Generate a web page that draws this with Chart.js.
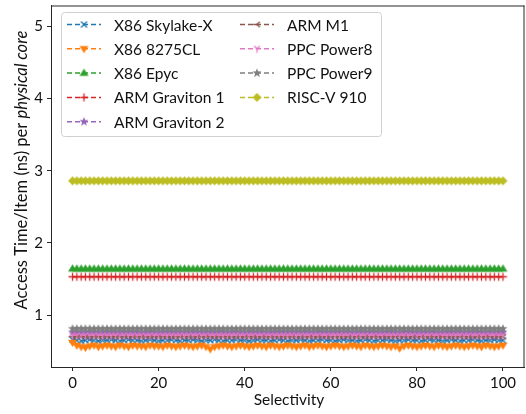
<!DOCTYPE html>
<html>
<head>
<meta charset="utf-8">
<script src="https://cdn.jsdelivr.net/npm/chart.js@4.4.0/dist/chart.umd.min.js"></script>
<style>
html,body{margin:0;padding:0;background:#fff;overflow:hidden;width:526px;height:414px;}
canvas{display:block;}
</style>
</head>
<body>
<canvas id="c" width="530" height="414"></canvas>
<script>
const selectivity = [0,1,2,3,4,5,6,7,8,9,10,11,12,13,14,15,16,17,18,19,20,21,22,23,24,25,26,27,28,29,30,31,32,33,34,35,36,37,38,39,40,41,42,43,44,45,46,47,48,49,50,51,52,53,54,55,56,57,58,59,60,61,62,63,64,65,66,67,68,69,70,71,72,73,74,75,76,77,78,79,80,81,82,83,84,85,86,87,88,89,90,91,92,93,94,95,96,97,98,99,100];

const seriesNames = ["X86 Skylake-X","X86 8275CL","X86 Epyc","ARM Graviton 1","ARM Graviton 2","ARM M1","PPC Power8","PPC Power9","RISC-V 910"];

const skylakeX = [0.66,0.65,0.64,0.65,0.66,0.65,0.64,0.65,0.65,0.66,
0.65,0.64,0.65,0.66,0.65,0.65,0.64,0.65,0.66,0.65,
0.64,0.65,0.65,0.66,0.65,0.64,0.65,0.65,0.66,0.65,
0.64,0.65,0.65,0.66,0.65,0.64,0.65,0.65,0.66,0.65,
0.65,0.64,0.65,0.66,0.65,0.65,0.64,0.65,0.66,0.65,
0.64,0.65,0.65,0.66,0.65,0.64,0.65,0.65,0.66,0.65,
0.65,0.64,0.65,0.66,0.65,0.65,0.64,0.65,0.66,0.65,
0.64,0.65,0.65,0.66,0.65,0.64,0.65,0.65,0.66,0.65,
0.65,0.64,0.65,0.66,0.65,0.65,0.64,0.65,0.66,0.65,
0.64,0.65,0.65,0.66,0.65,0.64,0.65,0.65,0.66,0.65,
0.65];
const x86_8275CL = [0.62,0.58,0.56,0.55,0.57,0.58,0.56,0.57,0.58,0.57,
0.56,0.58,0.57,0.56,0.58,0.57,0.57,0.56,0.58,0.57,
0.57,0.56,0.58,0.57,0.56,0.57,0.58,0.57,0.56,0.57,
0.58,0.56,0.53,0.56,0.57,0.58,0.57,0.56,0.57,0.58,
0.57,0.56,0.57,0.58,0.57,0.56,0.58,0.57,0.56,0.57,
0.58,0.57,0.56,0.57,0.58,0.56,0.57,0.58,0.57,0.56,
0.57,0.58,0.57,0.56,0.57,0.58,0.57,0.56,0.58,0.57,
0.56,0.57,0.58,0.57,0.56,0.57,0.54,0.57,0.58,0.57,
0.56,0.57,0.58,0.57,0.56,0.58,0.57,0.56,0.57,0.58,
0.57,0.56,0.57,0.58,0.57,0.56,0.58,0.57,0.56,0.57,
0.58];
const x86Epyc = [1.64,1.64,1.64,1.64,1.64,1.64,1.64,1.64,1.64,1.64,
1.64,1.64,1.64,1.64,1.64,1.64,1.64,1.64,1.64,1.64,
1.64,1.64,1.64,1.64,1.64,1.64,1.64,1.64,1.64,1.64,
1.64,1.64,1.64,1.64,1.64,1.64,1.64,1.64,1.64,1.64,
1.64,1.64,1.64,1.64,1.64,1.64,1.64,1.64,1.64,1.64,
1.64,1.64,1.64,1.64,1.64,1.64,1.64,1.64,1.64,1.64,
1.64,1.64,1.64,1.64,1.64,1.64,1.64,1.64,1.64,1.64,
1.64,1.64,1.64,1.64,1.64,1.64,1.64,1.64,1.64,1.64,
1.64,1.64,1.64,1.64,1.64,1.64,1.64,1.64,1.64,1.64,
1.64,1.64,1.64,1.64,1.64,1.64,1.64,1.64,1.64,1.64,
1.64];
const armGraviton1 = [1.53,1.53,1.53,1.53,1.53,1.53,1.53,1.53,1.53,1.53,
1.53,1.53,1.53,1.53,1.53,1.53,1.53,1.53,1.53,1.53,
1.53,1.53,1.53,1.53,1.53,1.53,1.53,1.53,1.53,1.53,
1.53,1.53,1.53,1.53,1.53,1.53,1.53,1.53,1.53,1.53,
1.53,1.53,1.53,1.53,1.53,1.53,1.53,1.53,1.53,1.53,
1.53,1.53,1.53,1.53,1.53,1.53,1.53,1.53,1.53,1.53,
1.53,1.53,1.53,1.53,1.53,1.53,1.53,1.53,1.53,1.53,
1.53,1.53,1.53,1.53,1.53,1.53,1.53,1.53,1.53,1.53,
1.53,1.53,1.53,1.53,1.53,1.53,1.53,1.53,1.53,1.53,
1.53,1.53,1.53,1.53,1.53,1.53,1.53,1.53,1.53,1.53,
1.53];
const armGraviton2 = [0.76,0.76,0.75,0.76,0.76,0.76,0.75,0.76,0.76,0.76,
0.76,0.75,0.76,0.76,0.76,0.76,0.75,0.76,0.76,0.76,
0.75,0.76,0.76,0.76,0.76,0.75,0.76,0.76,0.76,0.76,
0.76,0.75,0.76,0.76,0.76,0.76,0.75,0.76,0.76,0.76,
0.75,0.76,0.76,0.76,0.76,0.75,0.76,0.76,0.76,0.76,
0.76,0.75,0.76,0.76,0.76,0.76,0.75,0.76,0.76,0.76,
0.75,0.76,0.76,0.76,0.76,0.75,0.76,0.76,0.76,0.76,
0.76,0.75,0.76,0.76,0.76,0.76,0.75,0.76,0.76,0.76,
0.75,0.76,0.76,0.76,0.76,0.75,0.76,0.76,0.76,0.76,
0.76,0.75,0.76,0.76,0.76,0.76,0.75,0.76,0.76,0.76,
0.76];
const armM1 = [0.70,0.70,0.70,0.70,0.70,0.70,0.70,0.70,0.70,0.70,
0.70,0.70,0.70,0.70,0.70,0.70,0.70,0.70,0.70,0.70,
0.70,0.70,0.70,0.70,0.70,0.70,0.70,0.70,0.70,0.70,
0.70,0.70,0.70,0.70,0.70,0.70,0.70,0.70,0.70,0.70,
0.70,0.70,0.70,0.70,0.70,0.70,0.70,0.70,0.70,0.70,
0.70,0.70,0.70,0.70,0.70,0.70,0.70,0.70,0.70,0.70,
0.70,0.70,0.70,0.70,0.70,0.70,0.70,0.70,0.70,0.70,
0.70,0.70,0.70,0.70,0.70,0.70,0.70,0.70,0.70,0.70,
0.70,0.70,0.70,0.70,0.70,0.70,0.70,0.70,0.70,0.70,
0.70,0.70,0.70,0.70,0.70,0.70,0.70,0.70,0.70,0.70,
0.70];
const ppcPower8 = [0.72,0.72,0.72,0.72,0.72,0.72,0.72,0.72,0.72,0.72,
0.72,0.72,0.72,0.72,0.72,0.72,0.72,0.72,0.72,0.72,
0.72,0.72,0.72,0.72,0.72,0.72,0.72,0.72,0.72,0.72,
0.72,0.72,0.72,0.72,0.72,0.72,0.72,0.72,0.72,0.72,
0.72,0.72,0.72,0.72,0.72,0.72,0.72,0.72,0.72,0.72,
0.72,0.72,0.72,0.72,0.72,0.72,0.72,0.72,0.72,0.72,
0.72,0.72,0.72,0.72,0.72,0.72,0.72,0.72,0.72,0.72,
0.72,0.72,0.72,0.72,0.72,0.72,0.72,0.72,0.72,0.72,
0.72,0.72,0.72,0.72,0.72,0.72,0.72,0.72,0.72,0.72,
0.72,0.72,0.72,0.72,0.72,0.72,0.72,0.72,0.72,0.72,
0.72];
const ppcPower9 = [0.81,0.81,0.81,0.81,0.81,0.81,0.81,0.81,0.81,0.81,
0.81,0.81,0.81,0.81,0.81,0.81,0.81,0.81,0.81,0.81,
0.81,0.81,0.81,0.81,0.81,0.81,0.81,0.81,0.81,0.81,
0.81,0.81,0.81,0.81,0.81,0.81,0.81,0.81,0.81,0.81,
0.81,0.81,0.81,0.81,0.81,0.81,0.81,0.81,0.81,0.81,
0.81,0.81,0.81,0.81,0.81,0.81,0.81,0.81,0.81,0.81,
0.81,0.81,0.81,0.81,0.81,0.81,0.81,0.81,0.81,0.81,
0.81,0.81,0.81,0.81,0.81,0.81,0.81,0.81,0.81,0.81,
0.81,0.81,0.81,0.81,0.81,0.81,0.81,0.81,0.81,0.81,
0.81,0.81,0.81,0.81,0.81,0.81,0.81,0.81,0.81,0.81,
0.81];
const riscv910 = [2.86,2.86,2.86,2.86,2.86,2.86,2.86,2.86,2.86,2.86,
2.86,2.86,2.86,2.86,2.86,2.86,2.86,2.86,2.86,2.86,
2.86,2.86,2.86,2.86,2.86,2.86,2.86,2.86,2.86,2.86,
2.86,2.86,2.86,2.86,2.86,2.86,2.86,2.86,2.86,2.86,
2.86,2.86,2.86,2.86,2.86,2.86,2.86,2.86,2.86,2.86,
2.86,2.86,2.86,2.86,2.86,2.86,2.86,2.86,2.86,2.86,
2.86,2.86,2.86,2.86,2.86,2.86,2.86,2.86,2.86,2.86,
2.86,2.86,2.86,2.86,2.86,2.86,2.86,2.86,2.86,2.86,
2.86,2.86,2.86,2.86,2.86,2.86,2.86,2.86,2.86,2.86,
2.86,2.86,2.86,2.86,2.86,2.86,2.86,2.86,2.86,2.86,
2.86];

const yTicks = [1,2,3,4,5];
const xTicks = [0,20,40,60,80,100];

const FONT = 'Lato, "Open Sans", sans-serif';
const AXIS = '#262626';

// ---- marker images ----
function mk(size, draw){
  const c = document.createElement('canvas');
  c.width = size; c.height = size;
  const g = c.getContext('2d');
  draw(g, size/2);
  return c;
}
function starImg(color, r){
  return mk(Math.ceil(2*r+2), (g, c)=>{
    g.beginPath();
    for(let i=0;i<10;i++){
      const rr = i%2===0 ? r : r*0.42;
      const a = -Math.PI/2 + i*Math.PI/5;
      const x = c + rr*Math.cos(a), y = c + rr*Math.sin(a);
      i===0 ? g.moveTo(x,y) : g.lineTo(x,y);
    }
    g.closePath(); g.fillStyle = color; g.fill();
  });
}
function triLinesImg(color, r, angles){
  return mk(Math.ceil(2*r+3), (g, c)=>{
    g.strokeStyle = color; g.lineWidth = 1.3;
    g.beginPath();
    angles.forEach(a=>{ g.moveTo(c,c); g.lineTo(c + r*Math.cos(a), c + r*Math.sin(a)); });
    g.stroke();
  });
}
function triDownImg(color, r){
  return mk(Math.ceil(2*r+2), (g, c)=>{
    g.beginPath();
    g.moveTo(c - r, c - r*0.6);
    g.lineTo(c + r, c - r*0.6);
    g.lineTo(c, c + r);
    g.closePath(); g.fillStyle = color; g.fill();
  });
}
function triUpImg(color, r){
  return mk(Math.ceil(2*r+2), (g, c)=>{
    g.beginPath();
    g.moveTo(c - r, c + r*0.6);
    g.lineTo(c + r, c + r*0.6);
    g.lineTo(c, c - r);
    g.closePath(); g.fillStyle = color; g.fill();
  });
}
function xImg(color, r){
  return mk(Math.ceil(2*r+3), (g, c)=>{
    g.strokeStyle = color; g.lineWidth = 1.3;
    g.beginPath();
    g.moveTo(c-r,c-r); g.lineTo(c+r,c+r);
    g.moveTo(c+r,c-r); g.lineTo(c-r,c+r);
    g.stroke();
  });
}
function plusImg(color, r, lw){
  return mk(Math.ceil(2*r+3), (g, c)=>{
    g.strokeStyle = color; g.lineWidth = lw;
    g.beginPath();
    g.moveTo(c-r,c); g.lineTo(c+r,c);
    g.moveTo(c,c-r); g.lineTo(c,c+r);
    g.stroke();
  });
}
function diamondImg(color, r){
  return mk(Math.ceil(2*r+2), (g, c)=>{
    g.beginPath();
    g.moveTo(c, c-r); g.lineTo(c+r, c); g.lineTo(c, c+r); g.lineTo(c-r, c);
    g.closePath(); g.fillStyle = color; g.fill();
  });
}

const colors = ['#1f77b4','#ff7f0e','#2ca02c','#d62728','#9467bd','#8c564b','#e377c2','#7f7f7f','#bcbd22'];
const markers = [
  xImg(colors[0], 3),
  triDownImg(colors[1], 4.5),
  triUpImg(colors[2], 4.5),
  plusImg(colors[3], 4, 1.3),
  starImg(colors[4], 4.8),
  triLinesImg(colors[5], 4, [Math.PI, -Math.PI/4, Math.PI/4]),
  triLinesImg(colors[6], 4, [Math.PI/2, -3*Math.PI/4, -Math.PI/4]),
  starImg(colors[7], 4.8),
  diamondImg(colors[8], 4.5)
];
const values = [skylakeX, x86_8275CL, x86Epyc, armGraviton1, armGraviton2, armM1, ppcPower8, ppcPower9, riscv910];

const datasets = values.map((arr, i) => ({
  label: seriesNames[i],
  data: arr.map((v, k) => ({x: selectivity[k], y: v})),
  borderColor: colors[i],
  backgroundColor: colors[i],
  borderWidth: 1.5,
  borderDash: [5, 3],
  pointStyle: markers[i],
  pointRadius: 4,
  pointHoverRadius: 4,
  order: -i,
  tension: 0
}));

const overlay = {
  id: 'overlay',
  afterDraw(chart){
    const ctx = chart.ctx;
    const a = chart.chartArea;
    ctx.save();
    // top and right spines
    ctx.strokeStyle = AXIS; ctx.lineWidth = 1;
    ctx.beginPath();
    ctx.moveTo(a.left, a.top + 0.5); ctx.lineTo(a.right, a.top + 0.5);
    ctx.moveTo(a.right - 0.5, a.top); ctx.lineTo(a.right - 0.5, a.bottom);
    ctx.stroke();

    // axis titles
    ctx.fillStyle = '#111';
    ctx.textBaseline = 'middle';
    ctx.font = '15.5px ' + FONT;
    ctx.textAlign = 'center';
    ctx.fillText('Selectivity', 289, 400);

    ctx.save();
    ctx.translate(22, 170);
    ctx.rotate(-Math.PI/2);
    const fs = '16.5px ';
    const p1 = 'Access Time/Item (ns) per ';
    const p2 = 'physical core';
    ctx.font = fs + FONT;
    const w1 = ctx.measureText(p1).width;
    ctx.font = 'italic ' + fs + FONT;
    const w2 = ctx.measureText(p2).width;
    const start = -(w1 + w2)/2;
    ctx.textAlign = 'left';
    ctx.font = fs + FONT;
    ctx.fillText(p1, start, 0);
    ctx.font = 'italic ' + fs + FONT;
    ctx.fillText(p2, start + w1, 0);
    ctx.restore();

    // legend
    const lx = 61.5, ly = 12.5, lw = 320, lh = 124;
    ctx.fillStyle = 'rgba(255,255,255,0.85)';
    ctx.strokeStyle = '#d0d0d0';
    ctx.lineWidth = 1;
    ctx.beginPath();
    if (ctx.roundRect) ctx.roundRect(lx, ly, lw, lh, 3); else ctx.rect(lx, ly, lw, lh);
    ctx.fill(); ctx.stroke();

    const rowY = [24.5, 48.8, 73.1, 97.4, 121.7];
    const cols = [{h0: 67, h1: 101, t: 114}, {h0: 240, h1: 274, t: 287}];
    ctx.font = '15.5px ' + FONT;
    ctx.textAlign = 'left';
    ctx.textBaseline = 'middle';
    seriesNames.forEach((name, i) => {
      const col = i < 5 ? cols[0] : cols[1];
      const y = i < 5 ? rowY[i] : rowY[i - 5];
      ctx.strokeStyle = colors[i];
      ctx.lineWidth = 1.5;
      ctx.setLineDash([5, 3]);
      ctx.beginPath();
      ctx.moveTo(col.h0, y); ctx.lineTo(col.h1, y);
      ctx.stroke();
      ctx.setLineDash([]);
      const img = markers[i];
      const cx = (col.h0 + col.h1)/2;
      ctx.drawImage(img, cx - img.width/2, y - img.height/2);
      ctx.fillStyle = '#111';
      ctx.fillText(name, col.t, y + 1);
    });
    ctx.restore();
  }
};

new Chart(document.getElementById('c'), {
  type: 'line',
  data: { datasets },
  options: {
    responsive: false,
    animation: false,
    events: [],
    layout: { padding: { top: 3, right: 3, left: 0, bottom: 0 } },
    plugins: { legend: { display: false }, tooltip: { enabled: false } },
    scales: {
      x: {
        type: 'linear', min: -5, max: 105,
        afterBuildTicks(s){ s.ticks = xTicks.map(v => ({value: v})); },
        ticks: { color: '#111', font: { family: FONT, size: 15 }, padding: 3, maxRotation: 0 },
        grid: { drawOnChartArea: false, tickLength: 4, tickColor: AXIS, tickWidth: 1 },
        border: { color: AXIS, width: 1 },
        afterFit(s){ s.height = 47; s.paddingLeft = 0; s.paddingRight = 0; s.paddingTop = 0; s.paddingBottom = 0; }
      },
      y: {
        type: 'linear', min: 0.28, max: 5.29,
        afterBuildTicks(s){ s.ticks = yTicks.map(v => ({value: v})); },
        ticks: { color: '#111', font: { family: FONT, size: 15 }, padding: 4 },
        grid: { drawOnChartArea: false, tickLength: 4, tickColor: AXIS, tickWidth: 1 },
        border: { color: AXIS, width: 1 },
        afterFit(s){ s.width = 51; s.paddingLeft = 0; s.paddingRight = 0; s.paddingTop = 0; s.paddingBottom = 0; }
      }
    }
  },
  plugins: [overlay]
});
</script>
</body>
</html>
